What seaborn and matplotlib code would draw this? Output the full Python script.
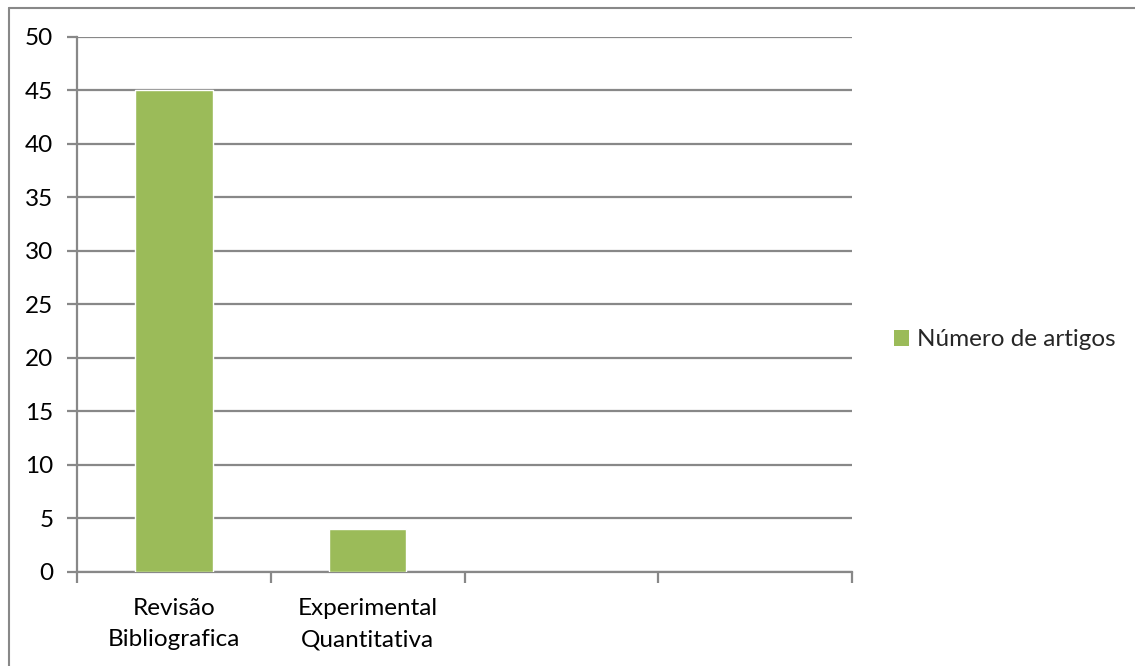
import matplotlib
matplotlib.use("Agg")
import matplotlib.pyplot as plt
from matplotlib.lines import Line2D
from matplotlib.patches import Patch
import seaborn as sns
import pandas as pd

# Data
categories = ["Revisão\nBibliografica", "Experimental\nQuantitativa"]
values = [45, 4]
series_name = "Número de artigos"
y_ticks = [0, 5, 10, 15, 20, 25, 30, 35, 40, 45, 50]

BAR_COLOR = "#9BBB59"
GRID_COLOR = "#888888"
FONT = ["Lato", "DejaVu Sans"]
FS = 17.5

sns.set_theme(style="white")
plt.rcParams["font.family"] = FONT

W, H = 1135, 666
fig = plt.figure(figsize=(W / 100, H / 100), dpi=100)
fig.patch.set_facecolor("white")

# Plot area in pixel coordinates
left, right, top, bottom = 77, 852, 36.5, 572
ax = fig.add_axes([left / W, 1 - bottom / H, (right - left) / W, (bottom - top) / H])

df = pd.DataFrame({"categoria": categories, "valor": values})
sns.barplot(data=df, x="categoria", y="valor", color=BAR_COLOR, width=0.4,
            saturation=1, ax=ax, zorder=3)

ax.set_xlim(-0.5, 3.5)
ax.set_ylim(0, 50)
ax.set_xlabel("")
ax.set_ylabel("")

# Horizontal gridlines
ax.set_yticks(y_ticks)
ax.yaxis.grid(True, color=GRID_COLOR, linewidth=1.6)
ax.xaxis.grid(False)
ax.set_axisbelow(True)

for side in ["top", "right"]:
    ax.spines[side].set_visible(False)
for side in ["left", "bottom"]:
    ax.spines[side].set_visible(True)
    ax.spines[side].set_color(GRID_COLOR)
    ax.spines[side].set_linewidth(1.6)

ax.tick_params(axis="y", direction="out", length=7, width=1.6, color=GRID_COLOR,
               labelsize=FS, labelcolor="black", pad=10, left=True)

# Category labels centred in slots, tick marks at slot boundaries
ax.set_xticks(range(len(categories)))
ax.set_xticklabels(categories, fontsize=FS, color="black", linespacing=1.62)
ax.tick_params(axis="x", which="major", length=0, pad=18.5)
ax.set_xticks([-0.5, 0.5, 1.5, 2.5, 3.5], minor=True)
ax.tick_params(axis="x", which="minor", direction="out", length=8, width=1.6,
               color=GRID_COLOR, bottom=True)

# Legend
handle = Patch(facecolor=BAR_COLOR, edgecolor="none")
fig.legend([handle], [series_name], loc="center left",
           bbox_to_anchor=(872 / W, 1 - 340 / H), frameon=False,
           fontsize=FS, handlelength=0.62, handleheight=0.62, handletextpad=0.33)

# Outer chart frame
fig.add_artist(Line2D([8.5 / W, 8.5 / W], [0, 1 - 8 / H], transform=fig.transFigure,
                      color=GRID_COLOR, linewidth=1.5))
fig.add_artist(Line2D([8.5 / W, 1], [1 - 8 / H, 1 - 8 / H], transform=fig.transFigure,
                      color=GRID_COLOR, linewidth=1.5))

fig.savefig("out.png", dpi=100, facecolor="white")
